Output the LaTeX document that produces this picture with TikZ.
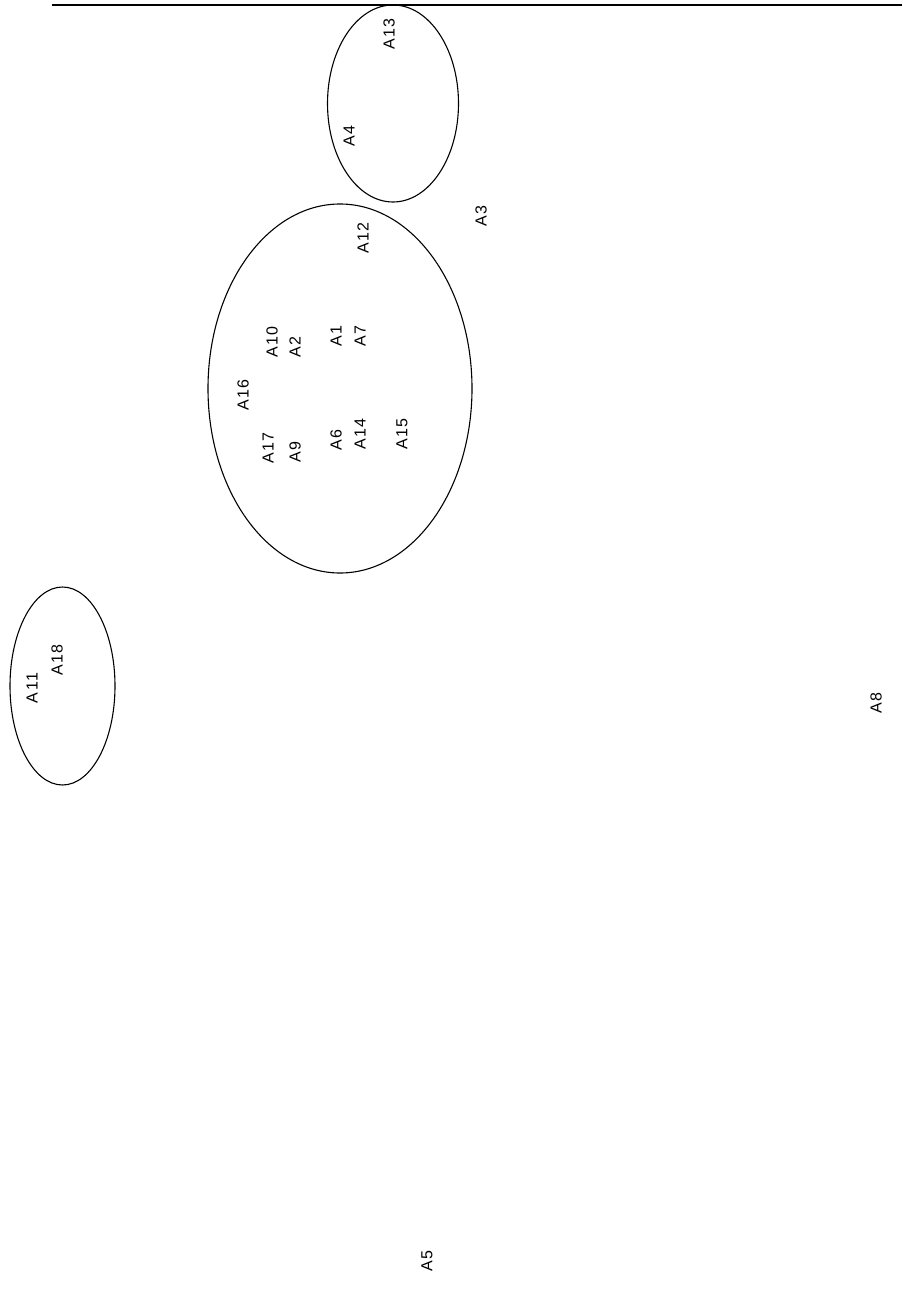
\documentclass[tikz,border=0pt]{standalone}
\usepackage{fontspec}
\setmainfont{Liberation Sans}[LetterSpace=10]
\begin{document}
\begin{tikzpicture}[x=1pt,y=-1pt,
  lbl/.style={rotate=90,inner sep=0pt,font=\fontsize{16}{16}\selectfont},
  grp/.style={draw=black,line width=1.1pt}]
\useasboundingbox (0,0) rectangle (902,1297);
\draw[line width=1.6pt] (52,5) coordinate (tl) -- (902,5) coordinate (tr);
\draw[grp] (393,103.5) ellipse [x radius=65.5, y radius=98.5];
\draw[grp] (340,388.5) ellipse [x radius=132, y radius=184.5];
\draw[grp] (62.5,686) ellipse [x radius=52.5, y radius=99];
\node[lbl] (a13) at (389,34) {A13};
\node[lbl] (a4) at (349,136) {A4};
\node[lbl] (a3) at (481,216) {A3};
\node[lbl] (a12) at (363,238) {A12};
\node[lbl] (a10) at (272,342) {A10};
\node[lbl] (a2) at (295,347) {A2};
\node[lbl] (a1) at (336,336) {A1};
\node[lbl] (a7) at (360,336) {A7};
\node[lbl] (a16) at (243,395) {A16};
\node[lbl] (a17) at (268,448) {A17};
\node[lbl] (a9) at (295,452) {A9};
\node[lbl] (a6) at (336,440) {A6};
\node[lbl] (a14) at (360,434) {A14};
\node[lbl] (a15) at (402,434) {A15};
\node[lbl] (a11) at (32,688) {A11};
\node[lbl] (a18) at (57,660) {A18};
\node[lbl] (a5) at (427,1261) {A5};
\node[lbl] (a8) at (876,703) {A8};
\end{tikzpicture}
\end{document}
